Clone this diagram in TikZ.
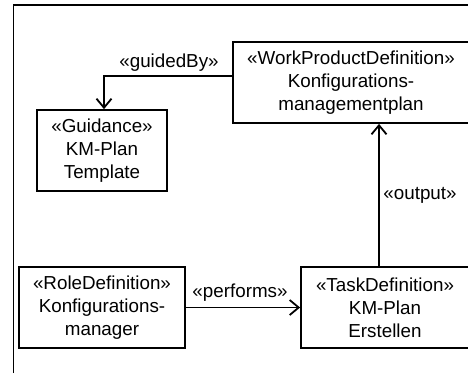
\documentclass[tikz,border=0pt]{standalone}
\usepackage{fontspec}
\setmainfont{Liberation Sans}
\usetikzlibrary{arrows.meta}
\begin{document}
\begin{tikzpicture}[x=1pt,y=-1pt,
  box/.style={draw,line width=1.8pt,rectangle,inner sep=0pt,align=center,
    font=\fontsize{18.8}{22.8}\selectfont,minimum height=81pt},
  conn/.style={draw,line width=1.8pt},
  arr/.style={conn,-{Straight Barb[length=9pt,width=15pt,line width=1.8pt]}},
  lbl/.style={font=\fontsize{18.8}{22}\selectfont,inner sep=0pt}]
\useasboundingbox (0,0) rectangle (468,373);
\draw[line width=1.8pt] (13.5,373) -- (13.5,5) -- (470,5);
\node[box,minimum width=236pt] (WP) at (351,82.5) {«WorkProductDefinition»\\Konfigurations-\\managementplan};
\node[box,minimum width=130pt] (G) at (102,150.5) {«Guidance»\\KM-Plan\\Template};
\node[box,minimum width=166pt] (R) at (102,307.5) {«RoleDefinition»\\Konfigurations-\\manager};
\node[box,minimum width=168pt] (T) at (385,307.5) {«TaskDefinition»\\KM-Plan\\Erstellen};
\draw[arr] ([yshift=6.5pt]WP.west) -| ([xshift=2pt]G.north);
\draw[arr] ([xshift=-6pt]T.north) -- ([xshift=28pt]WP.south);
\draw[arr] (R.east) -- (T.west);
\node[lbl] (lg) at (169,63) {«guidedBy»};
\node[lbl] (lo) at (420,195) {«output»};
\node[lbl] (lp) at (240,293) {«performs»};
\end{tikzpicture}
\end{document}
